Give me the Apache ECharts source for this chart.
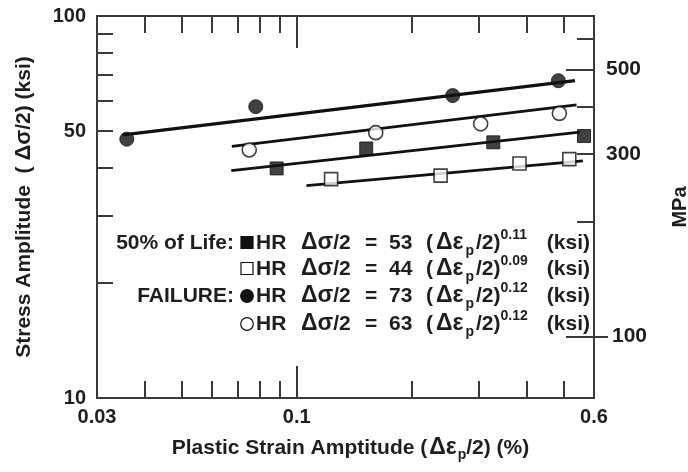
<!DOCTYPE html>
<html>
<head>
<meta charset="utf-8">
<script src="https://cdn.jsdelivr.net/npm/echarts@6/dist/echarts.min.js"></script>
<style>
  html, body { margin: 0; padding: 0; background: #fff; }
  #chart { width: 688px; height: 472px; }
</style>
</head>
<body>
<div id="chart"></div>
<script>
// Plastic strain amplitude (%) and stress amplitude (ksi) for the HR material
const strainHalfFilled = [0.0886, 0.152, 0.327, 0.565];   // 50% of life, filled squares
const stressHalfFilled = [39.9, 45.0, 46.7, 48.5];
const strainHalfOpen   = [0.123, 0.238, 0.383, 0.517];    // 50% of life, open squares
const stressHalfOpen   = [37.4, 38.2, 41.1, 42.2];
const strainFailFilled = [0.0359, 0.0781, 0.256, 0.484];  // failure, filled circles
const stressFailFilled = [47.6, 57.9, 61.9, 67.7];
const strainFailOpen   = [0.0751, 0.161, 0.303, 0.487];   // failure, open circles
const stressFailOpen   = [44.6, 49.5, 52.2, 55.6];

// Power-law fits: stress = coef * strain^exp, drawn over the given strain spans
const fitCoef  = [53, 44, 73, 63];
const fitExp   = [0.11, 0.09, 0.12, 0.12];
const fitExpText = ['0.11', '0.09', '0.12', '0.12'];
const fitStart = [0.0674, 0.106, 0.0351, 0.0676];
const fitEnd   = [0.551, 0.561, 0.535, 0.54];
const legendPrefix = ['50% of Life:', '', 'FAILURE:', ''];

// Axis ticks and labels
const xMinorTicks = [0.04, 0.05, 0.06, 0.07, 0.08, 0.09, 0.2, 0.3, 0.4, 0.5];
const xMajorTicks = [0.1];
const xLabels = [0.03, 0.1, 0.6];
const yTicks = [20, 30, 40, 50, 60, 70, 80, 90];
const yLabels = [10, 50, 100];
const mpaTicks = [200, 300, 400, 600];
const mpaLongTicks = [100, 500];
const mpaLabelsUpper = [300, 500];
const mpaLabelsLower = [100];
const KSI_TO_MPA = 6.895;
const X_MIN = 0.03, X_MAX = 0.6, Y_MIN = 10, Y_MAX = 100;

const FONT = '"Liberation Sans", Arial, sans-serif';
const INK = '#1e1e1e';
const AXIS = '#3a3a3a';
const FS = 21;

const chart = echarts.init(document.getElementById('chart'));

const gridBox = { left: 97, top: 16, width: 497, height: 382, containLabel: false, outerBoundsMode: 'none' };
const fmt = v => String(+(+v).toPrecision(3));

function xAxisDef(gridIndex, position, ticks, tickLen, labels) {
  return {
    type: 'log', logBase: 10, gridIndex, position, min: X_MIN, max: X_MAX,
    axisLine: { show: true, lineStyle: { color: AXIS, width: 2 } },
    axisTick: { show: ticks.length > 0, inside: true, length: tickLen, customValues: ticks,
                lineStyle: { color: AXIS, width: 2 } },
    axisLabel: labels ? { show: true, customValues: labels, formatter: fmt,
                showMinLabel: true, showMaxLabel: true, margin: 9,
                fontFamily: FONT, fontSize: 20, fontWeight: 'bold', color: INK }
              : { show: false },
    splitLine: { show: false }, minorTick: { show: false }
  };
}

function yAxisDef(gridIndex, position, min, max, ticks, tickLen, labels, inside) {
  return {
    type: 'log', logBase: 10, gridIndex, position, min, max,
    axisLine: { show: true, lineStyle: { color: AXIS, width: 2 } },
    axisTick: { show: ticks.length > 0, inside: inside !== false, length: tickLen, customValues: ticks,
                lineStyle: { color: AXIS, width: 2 } },
    axisLabel: labels ? { show: true, customValues: labels, formatter: fmt,
                showMinLabel: true, showMaxLabel: true, margin: 11,
                fontFamily: FONT, fontSize: 20, fontWeight: 'bold', color: INK }
              : { show: false },
    splitLine: { show: false }, minorTick: { show: false }
  };
}

const xAxes = [
  xAxisDef(0, 'bottom', xMinorTicks, 17, null),
  xAxisDef(0, 'top', xMinorTicks, 17, null),
  xAxisDef(1, 'bottom', xMajorTicks, 32, xLabels),
  xAxisDef(1, 'top', xMajorTicks, 32, null),
  xAxisDef(2, 'bottom', [], 0, null)
];
xAxes[2].name = '{t|Plastic Strain Amptitude (}{g|Δε}{s|p}{t|/2) (%)}';
xAxes[2].nameLocation = 'middle';
xAxes[2].nameGap = 36;
xAxes[2].nameTextStyle = {
  padding: [0, 0, 0, 10],
  rich: {
    t: { fontFamily: FONT, fontSize: FS, fontWeight: 'bold', color: INK, lineHeight: 28 },
    g: { fontFamily: FONT, fontSize: 23, fontWeight: 'bold', color: INK, lineHeight: 28, padding: [0, 1, 0, 2] },
    s: { fontFamily: FONT, fontSize: 14, fontWeight: 'bold', color: INK, lineHeight: 14, verticalAlign: 'bottom' }
  }
};

const yAxes = [
  yAxisDef(0, 'left', Y_MIN, Y_MAX, yTicks, 16, yLabels),
  yAxisDef(0, 'right', Y_MIN * KSI_TO_MPA, Y_MAX * KSI_TO_MPA, mpaTicks, 17, null),
  yAxisDef(1, 'left', Y_MIN, Y_MAX, [], 0, null),
  yAxisDef(1, 'right', Y_MIN * KSI_TO_MPA, Y_MAX * KSI_TO_MPA, mpaLongTicks, 28, mpaLabelsUpper),
  yAxisDef(2, 'left', Y_MIN, Y_MAX, [], 0, null),
  yAxisDef(2, 'right', Y_MIN * KSI_TO_MPA, Y_MAX * KSI_TO_MPA, [100], 14, mpaLabelsLower, false)
];
yAxes[0].name = '{t|Stress Amplitude  ( }{g|Δσ}{t|/2) (ksi)}';
yAxes[0].nameLocation = 'middle';
yAxes[0].nameGap = 60;
yAxes[0].nameTextStyle = {
  rich: {
    t: { fontFamily: FONT, fontSize: FS, fontWeight: 'bold', color: INK, lineHeight: 26 },
    g: { fontFamily: FONT, fontSize: 22, fontWeight: 'bold', color: INK, lineHeight: 26 }
  }
};
yAxes[3].name = 'MPa';
yAxes[3].nameLocation = 'middle';
yAxes[3].nameGap = 76;
yAxes[3].nameTextStyle = { fontFamily: FONT, fontSize: 20, fontWeight: 'bold', color: INK };
yAxes[3].axisLabel.margin = 12;
yAxes[3].axisLabel.fontSize = 21;
yAxes[5].axisLabel.margin = 18;
yAxes[5].axisLabel.fontSize = 21;

const pairs = (xs, ys) => xs.map((x, i) => [x, ys[i]]);
const fitLine = i => [
  [fitStart[i], fitCoef[i] * Math.pow(fitStart[i], fitExp[i])],
  [fitEnd[i], fitCoef[i] * Math.pow(fitEnd[i], fitExp[i])]
];

const series = [];
[0, 1, 2, 3].forEach(i => {
  series.push({
    type: 'line', xAxisIndex: 0, yAxisIndex: 0, data: fitLine(i),
    showSymbol: false, symbol: 'none', silent: true, z: 2,
    lineStyle: { color: '#111', width: i === 2 ? 3.2 : 2.8 }
  });
});
const marker = (xs, ys, symbol, size, filled) => ({
  type: 'scatter', xAxisIndex: 0, yAxisIndex: 0, data: pairs(xs, ys),
  symbol, symbolSize: size, z: 5,
  itemStyle: filled ? { color: '#111', borderColor: '#111', borderWidth: 1 }
                    : { color: '#fff', borderColor: '#111', borderWidth: 1.6 }
});
series.push(marker(strainHalfFilled, stressHalfFilled, 'rect', 13, true));
series.push(marker(strainHalfOpen, stressHalfOpen, 'rect', 13, false));
series.push(marker(strainFailFilled, stressFailFilled, 'circle', 14, true));
series.push(marker(strainFailOpen, stressFailOpen, 'circle', 14, false));

// Equation block inside the plot
const legendRows = [243, 269, 296, 324];
const textStyle = { font: 'bold ' + FS + 'px ' + FONT, fill: INK, verticalAlign: 'middle' };
const greek = { font: 'bold 23px ' + FONT, fill: INK, lineHeight: 30 };
const graphics = [];
legendRows.forEach((ly, i) => {
  if (legendPrefix[i]) {
    graphics.push({ type: 'text', x: 234, y: ly,
      style: Object.assign({ text: legendPrefix[i], align: 'right' }, textStyle) });
  }
  const filled = i === 0 || i === 2;
  if (i < 2) {
    graphics.push({ type: 'rect', shape: { x: 241, y: ly - 6.5, width: 12, height: 12 },
      style: { fill: filled ? '#111' : '#fff', stroke: '#111', lineWidth: 1.2 } });
  } else {
    graphics.push({ type: 'circle', shape: { cx: 247, cy: ly, r: 6.3 },
      style: { fill: filled ? '#111' : '#fff', stroke: '#111', lineWidth: 1.2 } });
  }
  graphics.push({ type: 'text', x: 256, y: ly, style: Object.assign({ text: 'HR', align: 'left' }, textStyle) });
  graphics.push({ type: 'text', x: 301, y: ly, style: {
    text: '{g|Δσ}{m|/2}', verticalAlign: 'middle', align: 'left',
    rich: { g: greek, m: { font: 'bold ' + FS + 'px ' + FONT, fill: INK, lineHeight: 30 } }
  } });
  graphics.push({ type: 'text', x: 365, y: ly, style: Object.assign({ text: '=', align: 'left' }, textStyle) });
  graphics.push({ type: 'text', x: 389, y: ly, style: Object.assign({ text: String(fitCoef[i]), align: 'left' }, textStyle) });
  graphics.push({ type: 'text', x: 426, y: ly, style: {
    text: '{m|(}{g|Δε}{sub|p}{m|/2)}{sup|' + fitExpText[i] + '}',
    verticalAlign: 'middle', align: 'left',
    rich: {
      m: { font: 'bold ' + FS + 'px ' + FONT, fill: INK, lineHeight: 30 },
      g: Object.assign({ padding: [0, 1, 0, 3] }, greek),
      sub: { font: 'bold 14px ' + FONT, fill: INK, lineHeight: 15, verticalAlign: 'bottom', padding: [0, 2, 0, 1] },
      sup: { font: 'bold 14px ' + FONT, fill: INK, lineHeight: 15, verticalAlign: 'top' }
    }
  } });
  graphics.push({ type: 'text', x: 590, y: ly, style: Object.assign({ text: '(ksi)', align: 'right' }, textStyle) });
});

chart.setOption({
  animation: false,
  backgroundColor: '#fff',
  grid: [Object.assign({}, gridBox), Object.assign({}, gridBox), Object.assign({}, gridBox)],
  xAxis: xAxes,
  yAxis: yAxes,
  series,
  graphic: graphics
});
</script>
</body>
</html>
